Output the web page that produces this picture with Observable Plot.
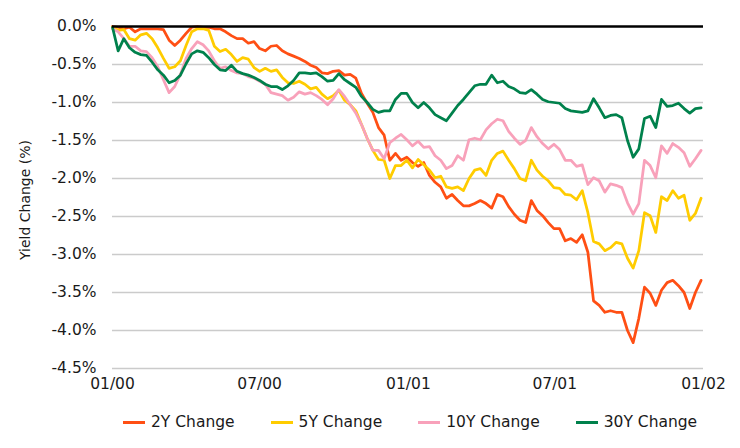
<!DOCTYPE html>
<html>
<head>
<meta charset="utf-8">
<script src="https://cdn.jsdelivr.net/npm/d3@7"></script>
<script src="https://cdn.jsdelivr.net/npm/@observablehq/plot@0.6"></script>
<style>
  body { margin: 0; background: #fff; font-family: "DejaVu Sans", sans-serif; }
  #wrap { position: relative; width: 740px; }
  #chart { width: 740px; }
  #ytitle { position: absolute; left: 25px; top: 200px; transform: translate(-50%, -50%) rotate(-90deg); white-space: nowrap; font-size: 14px; color: #1a1a1a; }
  #legend { display: flex; align-items: center; padding-left: 123px; padding-top: 12px; height: 20px; font-size: 15.5px; color: #1a1a1a; }
  .item { display: flex; align-items: center; margin-right: 36px; }
  .sw { width: 22px; height: 3px; margin-right: 6px; }
</style>
</head>
<body>
<div id="wrap">
  <div id="chart"></div>
  <div id="ytitle"></div>
  <div id="legend"></div>
</div>
<script>
// Weekly observations starting 2000-01-01
const startDate = "2000-01-01";
const stepDays = 7;

const seriesNames = ["2Y Change", "5Y Change", "10Y Change", "30Y Change"];
const seriesColors = ["#FF4F14", "#FFCC00", "#F8A1BA", "#00814C"];

const y2 = [0,-0.01,-0.03,-0.01,-0.07,-0.03,-0.03,-0.03,-0.03,-0.04,
  -0.18,-0.25,-0.18,-0.09,-0.01,0,-0.01,-0.01,-0.03,-0.03,
  -0.07,-0.12,-0.16,-0.16,-0.22,-0.20,-0.29,-0.32,-0.26,-0.25,
  -0.32,-0.36,-0.39,-0.42,-0.46,-0.51,-0.54,-0.61,-0.62,-0.59,
  -0.58,-0.64,-0.63,-0.68,-0.88,-1.01,-1.13,-1.33,-1.43,-1.76,
  -1.67,-1.76,-1.72,-1.79,-1.84,-1.79,-1.96,-2.05,-2.11,-2.26,
  -2.21,-2.29,-2.36,-2.36,-2.33,-2.29,-2.33,-2.39,-2.21,-2.24,
  -2.37,-2.47,-2.55,-2.58,-2.29,-2.42,-2.49,-2.58,-2.66,-2.66,
  -2.82,-2.79,-2.84,-2.74,-2.97,-3.61,-3.67,-3.76,-3.74,-3.76,
  -3.76,-4.00,-4.16,-3.84,-3.43,-3.51,-3.67,-3.47,-3.37,-3.34,
  -3.41,-3.50,-3.71,-3.50,-3.34];

const y5 = [-0.01,-0.05,-0.04,-0.16,-0.18,-0.11,-0.09,-0.16,-0.28,-0.42,
  -0.55,-0.53,-0.45,-0.25,-0.07,-0.03,-0.03,-0.05,-0.26,-0.33,
  -0.30,-0.37,-0.46,-0.41,-0.43,-0.54,-0.59,-0.55,-0.59,-0.57,
  -0.67,-0.74,-0.75,-0.72,-0.76,-0.82,-0.80,-0.89,-0.95,-0.91,
  -0.84,-0.97,-1.03,-1.11,-1.29,-1.47,-1.63,-1.75,-1.76,-2.00,
  -1.83,-1.83,-1.76,-1.86,-1.75,-1.82,-1.89,-1.99,-1.97,-2.11,
  -2.13,-2.11,-2.16,-2.00,-1.89,-1.87,-1.96,-1.76,-1.67,-1.64,
  -1.76,-1.87,-2.00,-2.03,-1.76,-1.89,-1.97,-2.03,-2.12,-2.13,
  -2.21,-2.22,-2.28,-2.16,-2.45,-2.83,-2.86,-2.95,-2.91,-2.84,
  -2.86,-3.05,-3.18,-2.95,-2.45,-2.49,-2.71,-2.24,-2.29,-2.16,
  -2.26,-2.22,-2.55,-2.46,-2.26];

const y10 = [-0.03,-0.07,-0.16,-0.26,-0.26,-0.32,-0.33,-0.41,-0.53,-0.70,
  -0.87,-0.79,-0.63,-0.42,-0.29,-0.20,-0.24,-0.32,-0.45,-0.55,
  -0.53,-0.58,-0.61,-0.62,-0.66,-0.68,-0.72,-0.76,-0.87,-0.89,
  -0.91,-0.97,-0.93,-0.86,-0.89,-0.87,-0.91,-0.96,-1.03,-0.95,
  -0.83,-0.92,-1.03,-1.14,-1.29,-1.47,-1.63,-1.63,-1.74,-1.53,
  -1.47,-1.42,-1.49,-1.57,-1.51,-1.59,-1.58,-1.70,-1.76,-1.87,
  -1.83,-1.70,-1.76,-1.49,-1.47,-1.49,-1.36,-1.28,-1.22,-1.24,
  -1.38,-1.47,-1.55,-1.50,-1.33,-1.45,-1.54,-1.61,-1.55,-1.62,
  -1.76,-1.76,-1.84,-1.82,-2.08,-1.99,-2.03,-2.18,-2.07,-2.09,
  -2.12,-2.32,-2.47,-2.33,-1.76,-1.83,-1.99,-1.57,-1.67,-1.54,
  -1.59,-1.66,-1.84,-1.74,-1.63];

const y30 = [-0.01,-0.32,-0.16,-0.28,-0.34,-0.37,-0.38,-0.47,-0.57,-0.64,
  -0.74,-0.71,-0.64,-0.49,-0.36,-0.32,-0.34,-0.41,-0.50,-0.57,
  -0.58,-0.51,-0.59,-0.62,-0.64,-0.67,-0.71,-0.76,-0.79,-0.79,
  -0.83,-0.78,-0.71,-0.61,-0.61,-0.62,-0.61,-0.66,-0.72,-0.71,
  -0.62,-0.70,-0.75,-0.80,-0.92,-1.00,-1.09,-1.13,-1.11,-1.11,
  -0.96,-0.88,-0.88,-1.00,-1.07,-1.00,-1.07,-1.16,-1.20,-1.24,
  -1.14,-1.04,-0.96,-0.87,-0.78,-0.76,-0.76,-0.64,-0.74,-0.72,
  -0.79,-0.82,-0.87,-0.88,-0.83,-0.89,-0.96,-0.99,-1.00,-1.01,
  -1.08,-1.11,-1.12,-1.13,-1.11,-0.95,-1.07,-1.20,-1.17,-1.16,
  -1.20,-1.50,-1.72,-1.61,-1.21,-1.18,-1.33,-0.96,-1.05,-1.04,
  -1.01,-1.08,-1.14,-1.08,-1.07];

const xTickDates = ["2000-01-01", "2000-07-01", "2001-01-01", "2001-07-01", "2002-01-01"];
const yTickValues = [0, -0.5, -1.0, -1.5, -2.0, -2.5, -3.0, -3.5, -4.0, -4.5];
const yTitle = "Yield Change (%)";

const start = new Date(startDate);
const seriesValues = [y2, y5, y10, y30];
const rows = [];
seriesValues.forEach((vals, s) => {
  vals.forEach((v, i) => {
    rows.push({date: d3.utcDay.offset(start, i * stepDays), value: v, series: seriesNames[s]});
  });
});
const xTicks = xTickDates.map(d => new Date(d));

const plot = Plot.plot({
  width: 740,
  height: 400,
  marginLeft: 112,
  marginRight: 37,
  marginTop: 26,
  marginBottom: 32,
  style: {fontFamily: "DejaVu Sans, sans-serif", fontSize: "15.5px", color: "#1a1a1a", background: "#fff", overflow: "visible"},
  x: {type: "utc", domain: [xTicks[0], xTicks[xTicks.length - 1]]},
  y: {domain: [-4.5, 0]},
  marks: [
    Plot.ruleY(yTickValues.filter(d => d !== 0), {stroke: "#cbcbcb", strokeWidth: 1.5}),
    Plot.axisX({ticks: xTicks, tickFormat: d3.utcFormat("%m/%y"), tickSize: 0, tickPadding: 9, label: null}),
    Plot.axisY({ticks: yTickValues, tickFormat: d => d.toFixed(1) + "%", tickSize: 0, tickPadding: 16, label: null}),
    ...seriesNames.map((name, s) =>
      Plot.line(rows.filter(r => r.series === name), {x: "date", y: "value", stroke: seriesColors[s], strokeWidth: 2.75, strokeLinejoin: "round"})
    ),
    Plot.ruleY([0], {stroke: "#000", strokeWidth: 2.5})
  ]
});
document.getElementById("chart").append(plot);
document.getElementById("ytitle").textContent = yTitle;

const legend = document.getElementById("legend");
seriesNames.forEach((name, i) => {
  const item = document.createElement("div");
  item.className = "item";
  const sw = document.createElement("span");
  sw.className = "sw";
  sw.style.background = seriesColors[i];
  const label = document.createElement("span");
  label.textContent = name;
  item.append(sw, label);
  legend.append(item);
});
</script>
</body>
</html>
